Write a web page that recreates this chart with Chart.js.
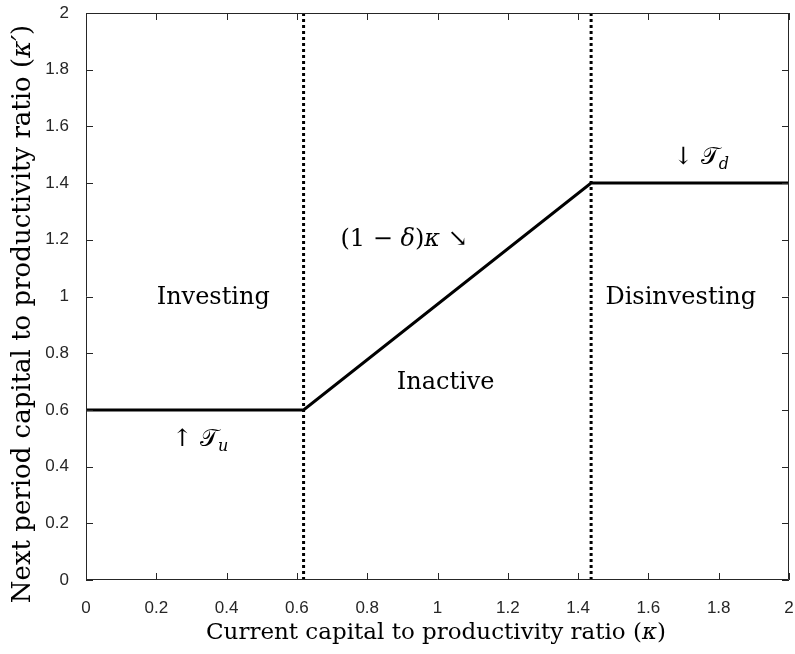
<!DOCTYPE html>
<html>
<head>
<meta charset="utf-8">
<script src="https://cdn.jsdelivr.net/npm/chart.js@4.4.0/dist/chart.umd.min.js"></script>
<style>
  html, body { margin: 0; padding: 0; background: #fff; }
  #wrap { width: 795px; height: 654px; }
</style>
</head>
<body>
<div id="wrap"><canvas id="policy"></canvas></div>
<script>
// policy function kappa' = g(kappa)
const kappaX = [0, 0.619, 1.437, 2];
const kappaNext = [0.6, 0.6, 1.4, 1.4];
// inaction band thresholds
const thresholds = [0.619, 1.437];
const tickValues = [0, 0.2, 0.4, 0.6, 0.8, 1, 1.2, 1.4, 1.6, 1.8, 2];

// region labels, in data units
const labelX = [0.362, 1.023, 1.692, 0.905, 1.75, 0.325];
const labelY = [0.995, 0.695, 0.995, 1.2, 1.49, 0.494];
const labelRuns = [
    [['Investing', 'n']],
    [['Inactive', 'n']],
    [['Disinvesting', 'n']],
    [['(1 \u2212 ', 'n'], ['\u03b4', 'i'], [')', 'n'], ['\u03ba', 'i'], [' \u2198', 'n']],
    [['\u2193 ', 'n'], ['\ud835\udcaf', 'n'], ['d', 's']],
    [['\u2191 ', 'n'], ['\ud835\udcaf', 'n'], ['u', 's']]
];

const xTitle = [['Current capital to productivity ratio (', 'n'], ['\u03ba', 'i'], [')', 'n']];
const yTitle = [['Next period capital to productivity ratio (', 'n'], ['\u03ba\u2032', 'i'], [')', 'n']];

const serif = '"DejaVu Serif", "Liberation Serif", serif';

function runFont(style, size){
    if(style === 'i') return 'italic ' + size + 'px ' + serif;
    if(style === 's') return 'italic ' + Math.round(size * 0.65) + 'px ' + serif;
    return size + 'px ' + serif;
}

// draws mixed roman/italic text centred on (cx, cy)
function drawRuns(ctx, runs, cx, cy, size){
    let total = 0;
    runs.forEach(r => { ctx.font = runFont(r[1], size); total += ctx.measureText(r[0]).width; });
    let px = cx - total / 2;
    runs.forEach(r => {
        ctx.font = runFont(r[1], size);
        ctx.fillText(r[0], px, r[1] === 's' ? cy + size * 0.3 : cy);
        px += ctx.measureText(r[0]).width;
    });
}

const labelPlugin = {
    id: 'labels',
    afterDatasetsDraw(chart){
        const ctx = chart.ctx;
        const xs = chart.scales.x, ys = chart.scales.y;
        ctx.save();
        ctx.fillStyle = '#000';
        ctx.textBaseline = 'middle';
        ctx.textAlign = 'left';
        labelRuns.forEach((runs, i) => {
            drawRuns(ctx, runs, xs.getPixelForValue(labelX[i]), ys.getPixelForValue(labelY[i]), 24);
        });
        // axis titles
        drawRuns(ctx, xTitle, 436, 633, 23);
        ctx.translate(23, 314);
        ctx.rotate(-Math.PI / 2);
        drawRuns(ctx, yTitle, 0, 0, 26);
        ctx.restore();
    }
};

// MATLAB style box with inward ticks
const boxPlugin = {
    id: 'box',
    afterDatasetsDraw(chart){
        const ctx = chart.ctx;
        const a = chart.chartArea;
        const xs = chart.scales.x, ys = chart.scales.y;
        ctx.save();
        ctx.strokeStyle = '#262626';
        ctx.lineWidth = 1;
        ctx.beginPath();
        ctx.rect(a.left + 0.5, a.top + 0.5, a.right - a.left - 1, a.bottom - a.top - 1);
        tickValues.forEach(v => {
            const px = Math.round(xs.getPixelForValue(v)) + 0.5;
            ctx.moveTo(px, a.bottom); ctx.lineTo(px, a.bottom - 7);
            ctx.moveTo(px, a.top); ctx.lineTo(px, a.top + 7);
            const py = Math.round(ys.getPixelForValue(v)) + 0.5;
            ctx.moveTo(a.left, py); ctx.lineTo(a.left + 7, py);
            ctx.moveTo(a.right, py); ctx.lineTo(a.right - 7, py);
        });
        ctx.stroke();
        ctx.restore();
    }
};

const vlines = thresholds.map(t => ({
    data: [{x: t, y: 0}, {x: t, y: 2}],
    showLine: true,
    borderColor: '#000',
    borderWidth: 3,
    borderDash: [3, 3],
    pointRadius: 0
}));

const fmt = v => String(+(+v).toFixed(1));

new Chart(document.getElementById('policy'), {
    type: 'scatter',
    data: {
        datasets: [{
            data: kappaX.map((x, i) => ({x: x, y: kappaNext[i]})),
            showLine: true,
            borderColor: '#000',
            borderWidth: 3,
            pointRadius: 0
        }].concat(vlines)
    },
    options: {
        responsive: true,
        maintainAspectRatio: false,
        animation: false,
        layout: { padding: { top: 13, right: 6, left: 0, bottom: 0 } },
        plugins: { legend: { display: false }, tooltip: { enabled: false } },
        scales: {
            x: {
                type: 'linear', min: 0, max: 2,
                afterBuildTicks: s => { s.ticks = tickValues.map(v => ({value: v})); },
                afterFit: s => { s.height = 74; s.paddingLeft = 0; s.paddingRight = 0; },
                grid: { display: false },
                border: { display: false },
                ticks: { color: '#262626', padding: 10, maxRotation: 0, callback: fmt, font: { family: '"Liberation Sans Narrow", "Liberation Sans", Arial', size: 17 } },
                title: { display: false }
            },
            y: {
                type: 'linear', min: 0, max: 2,
                afterBuildTicks: s => { s.ticks = tickValues.map(v => ({value: v})); },
                afterFit: s => { s.width = 86; s.paddingTop = 0; s.paddingBottom = 0; },
                grid: { display: false },
                border: { display: false },
                ticks: { color: '#262626', padding: 9, callback: fmt, font: { family: '"Liberation Sans", Arial', size: 17 } },
                title: { display: false }
            }
        }
    },
    plugins: [labelPlugin, boxPlugin]
});
</script>
</body>
</html>
